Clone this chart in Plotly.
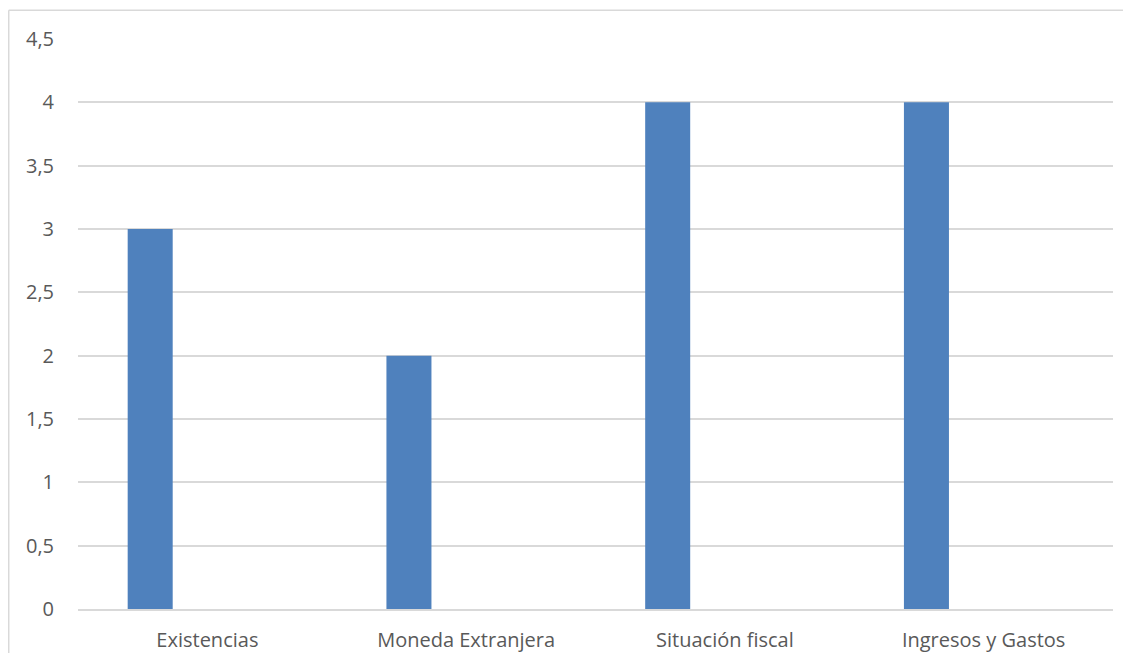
import plotly.graph_objects as go

categories = ["Existencias", "Moneda Extranjera", "Situación fiscal", "Ingresos y Gastos"]
values = [3, 2, 4, 4]
y_ticks = [0, 0.5, 1, 1.5, 2, 2.5, 3, 3.5, 4, 4.5]
y_ticklabels = ["0", "0,5", "1", "1,5", "2", "2,5", "3", "3,5", "4", "4,5"]

W, H = 1123, 645
ml, mt = 70, 31.3
pw, ph = 1034.7, 570.2
mr, mb = W - ml - pw, H - mt - ph

fig = go.Figure()
fig.add_trace(go.Bar(
    x=categories, y=values,
    marker=dict(color="#4f81bd", line=dict(width=0)),
    width=0.174, offset=-0.308,
))

font = dict(family="Open Sans, Liberation Sans, sans-serif", size=20, color="#595959")

bx = (0.75 - ml) / pw
by = 1 + (mt - 2.6) / ph
border = dict(color="#d9d9d9", width=1.5)

fig.update_layout(
    width=W, height=H,
    margin=dict(l=ml, r=mr, t=mt, b=mb, pad=0, autoexpand=False),
    paper_bgcolor="white", plot_bgcolor="white",
    showlegend=False,
    font=font,
    separators=", ",
    xaxis=dict(showgrid=False, showline=True, linecolor="#d9d9d9", linewidth=1.5,
               ticks="", tickfont=font, ticklabelstandoff=12, range=[-0.5, 3.5],
               automargin=False),
    yaxis=dict(range=[0, 4.5], tickvals=y_ticks, ticktext=y_ticklabels,
               showgrid=True, gridcolor="#d9d9d9", gridwidth=1.5,
               zeroline=False, showline=False, ticks="", tickfont=font,
               ticklabelstandoff=23, automargin=False),
    shapes=[
        dict(type="line", xref="paper", yref="paper", x0=bx, x1=1.5, y0=by, y1=by,
             line=border, layer="below"),
        dict(type="line", xref="paper", yref="paper", x0=bx, x1=bx, y0=-0.5, y1=by,
             line=border, layer="below"),
    ],
)

fig.write_html("out.html")
